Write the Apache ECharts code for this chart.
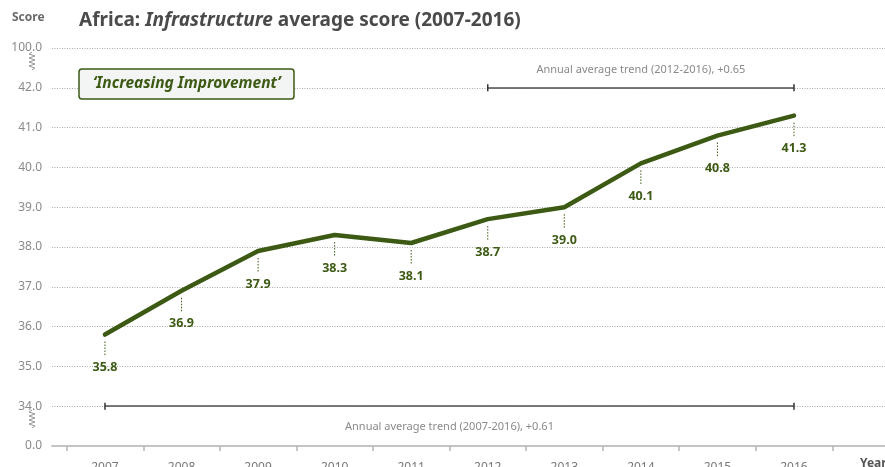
<!DOCTYPE html>
<html>
<head>
<meta charset="utf-8">
<script src="https://cdn.jsdelivr.net/npm/echarts@6/dist/echarts.min.js"></script>
<style>
  html, body { margin: 0; padding: 0; background: #fff; }
  #chart { width: 885px; height: 467px; }
</style>
</head>
<body>
<div id="chart"></div>
<script>
// Africa infrastructure average score by year
const years = [2007, 2008, 2009, 2010, 2011, 2012, 2013, 2014, 2015, 2016];
const scores = [35.8, 36.9, 37.9, 38.3, 38.1, 38.7, 39.0, 40.1, 40.8, 41.3];

// Broken score axis: 33 stands for 0.0 and 43 stands for 100.0
const scoreTicks = [33, 34, 35, 36, 37, 38, 39, 40, 41, 42, 43];
const scoreTickLabels = ['0.0', '34.0', '35.0', '36.0', '37.0', '38.0', '39.0', '40.0', '41.0', '42.0', '100.0'];
const yearTicks = [2006.5, 2007.5, 2008.5, 2009.5, 2010.5, 2011.5, 2012.5, 2013.5, 2014.5, 2015.5, 2016.5];

// Trend brackets: [from year, to year, level on axis]
const trendLongSpan = [2007, 2016, 34];
const trendLongText = 'Annual average trend (2007-2016), +0.61';
const trendRecentSpan = [2012, 2016, 42];
const trendRecentText = 'Annual average trend (2012-2016), +0.65';

const GREEN = '#3d5a14';
const FONT = 'Noto Sans';

const chart = echarts.init(document.getElementById('chart'), null, { renderer: 'canvas' });

const points = years.map((y, i) => [y, scores[i]]);

function bracket(span, text, pos, dist) {
  return [
    { coord: [span[0], span[2]], label: { show: true, formatter: text, position: pos, distance: dist } },
    { coord: [span[1], span[2]] }
  ];
}

const option = {
  animation: false,
  backgroundColor: '#ffffff',
  textStyle: { fontFamily: FONT },
  title: [
    {
      left: 79, top: 11, padding: 0,
      text: '{b|Africa: }{i|Infrastructure}{b| average score (2007-2016)}',
      textStyle: {
        rich: {
          b: { fontFamily: FONT, fontSize: 19, fontWeight: 'bold', color: '#4a4a4a' },
          i: { fontFamily: FONT, fontSize: 19, fontWeight: 'bold', fontStyle: 'italic', color: '#4a4a4a' }
        }
      }
    },
    {
      left: 79, top: 69,
      text: '\u2018Increasing Improvement\u2019',
      backgroundColor: '#f3f4f4',
      borderColor: GREEN, borderWidth: 1.5, borderRadius: 3,
      padding: [7, 14, 7, 14],
      textStyle: { fontFamily: FONT, fontSize: 15.5, fontWeight: 'bold', fontStyle: 'italic', color: GREEN }
    },
    {
      left: 12, top: 12, padding: 0,
      text: 'Score',
      textStyle: { fontFamily: FONT, fontSize: 12, fontWeight: 'bold', color: '#6a6a6a' }
    }
  ],
  grid: { left: 52, right: 0, top: 48, bottom: 21, containLabel: false, outerBoundsMode: 'none' },
  xAxis: {
    type: 'value',
    min: 2006.308,
    max: 2017.189,
    axisLine: { show: true, lineStyle: { color: '#c4c4c4', width: 2 } },
    axisTick: { show: true, customValues: yearTicks, length: 5, lineStyle: { color: '#b5b5b5', width: 1.5 } },
    axisLabel: {
      customValues: years, margin: 16,
      color: '#777', fontSize: 12, fontFamily: FONT,
      formatter: v => String(Math.round(v))
    },
    splitLine: { show: false }
  },
  yAxis: {
    type: 'value',
    min: 33, max: 43, interval: 1,
    axisLine: { show: false },
    axisTick: { show: false },
    axisLabel: {
      customValues: scoreTicks,
      margin: 10, color: '#8a8a8a', fontSize: 12, fontFamily: FONT,
      padding: [0, 0, 6, 0],
      formatter: v => scoreTickLabels[scoreTicks.indexOf(Math.round(v))]
    },
    splitLine: { show: true, lineStyle: { color: '#a8a8a8', type: [1, 1.5], width: 1 } }
  },
  graphic: [
    // break marks on the score axis
    {
      type: 'polyline', silent: true,
      shape: { points: [[32, 52], [29, 54], [35, 56], [29, 58], [35, 60], [29, 62], [35, 64], [29, 66], [35, 68], [32, 70]] },
      style: { stroke: '#9a9a9a', lineWidth: 1, fill: null }
    },
    {
      type: 'polyline', silent: true,
      shape: { points: [[32, 410], [29, 412], [35, 414], [29, 416], [35, 418], [29, 420], [35, 422], [29, 424], [35, 426], [32, 428]] },
      style: { stroke: '#9a9a9a', lineWidth: 1, fill: null }
    },
    {
      type: 'text', left: 860, top: 458, silent: true,
      style: { text: 'Year', fontFamily: FONT, fontSize: 12, fontWeight: 'bold', fill: '#555' }
    }
  ],
  series: [
    {
      name: 'Trend',
      type: 'line',
      data: [],
      silent: true,
      markLine: {
        silent: true,
        symbol: ['none', 'none'],
        lineStyle: { color: '#4f4f4f', width: 1.6, type: 'solid' },
        label: { color: '#8a8a8a', fontSize: 11, fontFamily: FONT },
        data: [
          bracket(trendLongSpan, trendLongText, 'insideMiddleBottom', 15),
          bracket(trendRecentSpan, trendRecentText, 'insideMiddleTop', 12)
        ]
      },
      markPoint: {
        silent: true,
        symbol: 'rect',
        symbolSize: [1.5, 7],
        itemStyle: { color: '#333' },
        label: { show: false },
        data: [
          { coord: [trendLongSpan[0], trendLongSpan[2]] },
          { coord: [trendLongSpan[1], trendLongSpan[2]] },
          { coord: [trendRecentSpan[0], trendRecentSpan[2]] },
          { coord: [trendRecentSpan[1], trendRecentSpan[2]] }
        ]
      }
    },
    {
      name: 'Infrastructure',
      type: 'line',
      data: points,
      showSymbol: false,
      symbol: 'none',
      lineStyle: { color: GREEN, width: 4.5, cap: 'round', join: 'round' },
      z: 5
    },
    {
      // dotted leader and value label under every point
      name: 'Labels',
      type: 'custom',
      silent: true,
      data: points,
      z: 6,
      renderItem: (params, api) => {
        const v = api.value(1);
        const p = api.coord([api.value(0), v]);
        return {
          type: 'group',
          children: [
            {
              type: 'line',
              shape: { x1: p[0], y1: p[1] + 7, x2: p[0], y2: p[1] + 21 },
              style: { stroke: GREEN, lineWidth: 1, lineDash: [1.5, 1.5] }
            },
            {
              type: 'text',
              x: p[0], y: p[1] + 33,
              style: {
                text: v.toFixed(1),
                align: 'center', verticalAlign: 'middle',
                fill: GREEN, fontFamily: FONT, fontSize: 12.5, fontWeight: 'bold'
              }
            }
          ]
        };
      }
    }
  ]
};

chart.setOption(option);
</script>
</body>
</html>
